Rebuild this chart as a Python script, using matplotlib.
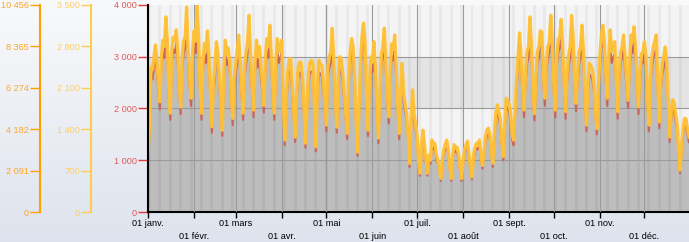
import matplotlib.pyplot as plt
import numpy as np
import pandas as pd

# daily values 2022, one row per week: sam, dim, lun, mar, mer, jeu, ven
jaune = [
    1100, 1700, 2800, 2750, 3000, 3230, 2900,
    2500, 2130, 3000, 3320, 3200, 3770, 3300,
    2400, 1910, 3100, 3380, 3300, 3520, 3100,
    2500, 2030, 3000, 3300, 3400, 3960, 3100,
    2600, 2200, 3100, 3500, 3300, 4000, 3400,
    2500, 1910, 2900, 3260, 3100, 3500, 3000,
    2300, 1650, 2500, 2800, 3290, 3100, 2600,
    2200, 1580, 2700, 3320, 3050, 3170, 2900,
    2300, 1810, 2600, 2880, 3100, 3420, 2900,
    2400, 1910, 2800, 3090, 3300, 3800, 3000,
    2500, 1970, 2900, 3320, 3000, 3200, 2800,
    2500, 2060, 3000, 3350, 3200, 3610, 3000,
    2400, 1910, 2900, 3350, 3100, 3200, 3320,
    2200, 1390, 2200, 2700, 2950, 2970, 2500,
    2000, 1450, 2300, 2800, 2900, 2880, 2600,
    2000, 1330, 2100, 2700, 2900, 2930, 2880,
    2000, 1260, 2500, 2930, 2850, 2830, 2500,
    2100, 1680, 2800, 3000, 3100, 3550, 2900,
    2200, 1640, 2600, 3000, 2950, 2700, 2300,
    1900, 1520, 2600, 3090, 3350, 3200, 2600,
    1800, 1160, 2000, 2900, 3400, 3650, 3300,
    2300, 1580, 2500, 3000, 2900, 3290, 2800,
    2100, 1430, 2300, 3040, 3200, 3550, 2900,
    2300, 1840, 2800, 3250, 3150, 3420, 2800,
    2100, 1520, 2400, 2870, 2300, 2100, 1900,
    1500, 940, 1800, 2360, 1900, 1700, 1500,
    1000, 750, 1300, 1580, 1300, 1000, 750,
    1100, 1000, 1390, 1300, 1330, 1100, 1000,
    850, 650, 1000, 1200, 1300, 1390, 1200,
    900, 650, 1100, 1300, 1250, 1250, 1100,
    850, 650, 1000, 1200, 1300, 1370, 1100,
    850, 680, 1100, 1250, 1330, 1300, 1390,
    1100, 900, 1140, 1450, 1580, 1620, 1500,
    1200, 940, 1500, 1900, 2070, 1950, 1800,
    1400, 1070, 1700, 2200, 2150, 2070, 1900,
    1500, 1390, 2000, 2550, 3000, 3460, 3000,
    2400, 1970, 2700, 3090, 3200, 3770, 3200,
    2400, 1900, 2600, 3090, 3200, 3500, 3480,
    2700, 2200, 2900, 3190, 3300, 3800, 3300,
    2500, 1970, 3000, 3320, 3400, 3720, 3200,
    2500, 1940, 2700, 3030, 3200, 3800, 3400,
    2600, 2100, 2700, 3060, 3200, 3610, 3100,
    2300, 1680, 2500, 2870, 2820, 2750, 2500,
    2000, 1610, 2400, 3000, 3400, 3610, 3300,
    2700, 2200, 3000, 3520, 3100, 3200, 3290,
    2600, 1940, 2700, 3090, 3200, 3420, 3000,
    2600, 2160, 2900, 3420, 3300, 3580, 3200,
    2600, 2030, 2700, 3060, 3100, 3290, 3000,
    2300, 1680, 2600, 3000, 3200, 3300, 3420,
    2500, 1740, 2500, 2870, 3000, 3190, 2900,
    2200, 1450, 1900, 2170, 2100, 1900, 1700,
    1200, 810, 1300, 1600, 1810, 1800, 1600,
    1450,
]

rouge = [
    1020, 1580, 2600, 2560, 2790, 3000, 2700,
    2330, 1980, 2790, 3090, 2980, 3510, 3070,
    2230, 1780, 2880, 3140, 3070, 3270, 2880,
    2330, 1890, 2790, 3070, 3160, 3680, 2880,
    2420, 2050, 2880, 3260, 3070, 3720, 3160,
    2330, 1780, 2700, 3030, 2880, 3260, 2790,
    2140, 1530, 2330, 2600, 3060, 2880, 2420,
    2050, 1470, 2510, 3090, 2840, 2950, 2700,
    2140, 1680, 2420, 2680, 2880, 3180, 2700,
    2230, 1780, 2600, 2870, 3070, 3530, 2790,
    2330, 1830, 2700, 3090, 2790, 2980, 2600,
    2330, 1920, 2790, 3120, 2980, 3360, 2790,
    2230, 1780, 2700, 3120, 2880, 2980, 3090,
    2050, 1290, 2050, 2510, 2740, 2760, 2330,
    1860, 1350, 2140, 2600, 2700, 2680, 2420,
    1860, 1240, 1950, 2510, 2700, 2720, 2680,
    1860, 1170, 2330, 2720, 2650, 2630, 2330,
    1950, 1560, 2600, 2790, 2880, 3300, 2700,
    2050, 1530, 2420, 2790, 2740, 2510, 2140,
    1770, 1410, 2420, 2870, 3120, 2980, 2420,
    1670, 1080, 1860, 2700, 3160, 3390, 3070,
    2140, 1470, 2330, 2790, 2700, 3060, 2600,
    1950, 1330, 2140, 2830, 2980, 3300, 2700,
    2140, 1710, 2600, 3020, 2930, 3180, 2600,
    1950, 1410, 2230, 2670, 2140, 1950, 1770,
    1400, 870, 1670, 2190, 1770, 1580, 1400,
    930, 700, 1210, 1470, 1210, 930, 700,
    1020, 930, 1290, 1210, 1240, 1020, 930,
    790, 600, 930, 1120, 1210, 1290, 1120,
    840, 600, 1020, 1210, 1160, 1160, 1020,
    790, 600, 930, 1120, 1210, 1270, 1020,
    790, 630, 1020, 1160, 1240, 1210, 1290,
    1020, 840, 1060, 1350, 1470, 1510, 1400,
    1120, 870, 1400, 1770, 1930, 1810, 1670,
    1300, 1000, 1580, 2050, 2000, 1930, 1770,
    1400, 1290, 1860, 2370, 2790, 3220, 2790,
    2230, 1830, 2510, 2870, 2980, 3510, 2980,
    2230, 1770, 2420, 2870, 2980, 3260, 3240,
    2510, 2050, 2700, 2970, 3070, 3530, 3070,
    2330, 1830, 2790, 3090, 3160, 3460, 2980,
    2330, 1800, 2510, 2820, 2980, 3530, 3160,
    2420, 1950, 2510, 2850, 2980, 3360, 2880,
    2140, 1560, 2330, 2670, 2620, 2560, 2330,
    1860, 1500, 2230, 2790, 3160, 3360, 3070,
    2510, 2050, 2790, 3270, 2880, 2980, 3060,
    2420, 1800, 2510, 2870, 2980, 3180, 2790,
    2420, 2010, 2700, 3180, 3070, 3330, 2980,
    2420, 1890, 2510, 2850, 2880, 3060, 2790,
    2140, 1560, 2420, 2790, 2980, 3070, 3180,
    2330, 1620, 2330, 2670, 2790, 2970, 2700,
    2050, 1350, 1770, 2020, 1950, 1770, 1580,
    1120, 750, 1210, 1490, 1680, 1670, 1490,
    1350,
]

mois = ['01 janv.', '01 févr.', '01 mars', '01 avr.', '01 mai', '01 juin',
        '01 juil.', '01 août', '01 sept.', '01 oct.', '01 nov.', '01 déc.']
ticks_main = [0, 1000, 2000, 3000, 4000]
ticks_orange = [0, 2091, 4182, 6274, 8365, 10456]
ticks_jaune = [0, 700, 1400, 2100, 2800, 3500]

jours = pd.date_range('2022-01-01', periods=len(jaune), freq='D')

W, H = 689, 242
plt.rcParams['font.family'] = 'Liberation Sans'
fig = plt.figure(figsize=(W / 100, H / 100), dpi=100)

# background gradient
bg = fig.add_axes([0, 0, 1, 1], zorder=-10)
grad = np.linspace(0, 1, 256).reshape(-1, 1)
top = np.array([0.975, 0.978, 0.985])
bot = np.array([0.87, 0.89, 0.93])
img = top + (bot - top) * grad[..., None]
bg.imshow(img, aspect='auto', extent=[0, 1, 0, 1])
bg.axis('off')

y0, y1 = 212, 5
bottom = (H - y0) / H
height = (y0 - y1) / H
ax = fig.add_axes([148 / W, bottom, (689 - 148) / W, height])

# horizontal bands
for lo, c in [(0, '#e4e4e4'), (1000, '#f4f4f4'), (2000, '#e4e4e4'), (3000, '#f4f4f4')]:
    ax.axhspan(lo, lo + 1000, color=c, zorder=0, lw=0)

# weekend stripes
for d in jours[jours.dayofweek == 5]:
    ax.axvspan(d, d + pd.Timedelta(days=2), color='k', alpha=0.045, lw=0, zorder=3)

ax.fill_between(jours, 0, rouge, color='#bdbdbd', lw=0, zorder=2)

month_starts = pd.date_range('2022-01-01', periods=12, freq='MS')
for m in month_starts[1:]:
    ax.axvline(m, color='#9a9a9a', lw=0.8, zorder=4)
for v in [1000, 2000, 3000]:
    ax.axhline(v, color='#9a9a9a', lw=0.8, zorder=4)

ax.plot(jours, rouge, color='#c9665c', lw=1.5, zorder=5, solid_joinstyle='round')
ax.plot(jours, jaune, color='#f6a400', lw=1.2, zorder=6)
ax.plot(jours, jaune, color='#ffc23a', lw=2.4, zorder=7, alpha=0.95, solid_joinstyle='round')

ax.set_xlim(jours[0], jours[-1])
ax.set_ylim(0, 4000)
for s in ['top', 'right']:
    ax.spines[s].set_visible(False)
ax.spines['left'].set_color('k')
ax.spines['left'].set_linewidth(1.5)
ax.spines['bottom'].set_color('k')
ax.spines['bottom'].set_linewidth(1.5)
ax.spines['left'].set_zorder(8)

ax.set_yticks(ticks_main)
ax.set_yticklabels([f'{v:,}'.replace(',', ' ') for v in ticks_main])
ax.tick_params(axis='y', colors='#e03c3c', length=7, width=1, labelsize=6.6, pad=1,
               labelcolor='#e05a5a')
ax.set_xticks(month_starts)
ax.set_xticklabels(mois)
ax.tick_params(axis='x', length=4, width=1, labelsize=6.6, pad=1, colors='k')
for i, t in enumerate(ax.xaxis.get_major_ticks()):
    if i % 2 == 1:
        t.set_pad(10.5)


def side_axis(x, vmax, ticks, color, labcolor):
    a = fig.add_axes([x / W, bottom, 0.0001, height])
    a.set_ylim(0, vmax)
    a.set_xticks([])
    for s in ['top', 'right', 'bottom']:
        a.spines[s].set_visible(False)
    a.spines['left'].set_color(color)
    a.spines['left'].set_linewidth(1.5)
    a.set_facecolor('none')
    a.set_yticks(ticks)
    a.set_yticklabels([f'{v:,}'.replace(',', ' ') for v in ticks])
    a.tick_params(axis='y', colors=color, length=7, width=1, labelsize=6.6, pad=1,
                  labelcolor=labcolor)
    return a


side_axis(40, 10456, ticks_orange, '#ffa000', '#ffa726')
side_axis(91, 3500, ticks_jaune, '#ffcc50', '#ffcf60')

fig.savefig('out.png', dpi=100)
